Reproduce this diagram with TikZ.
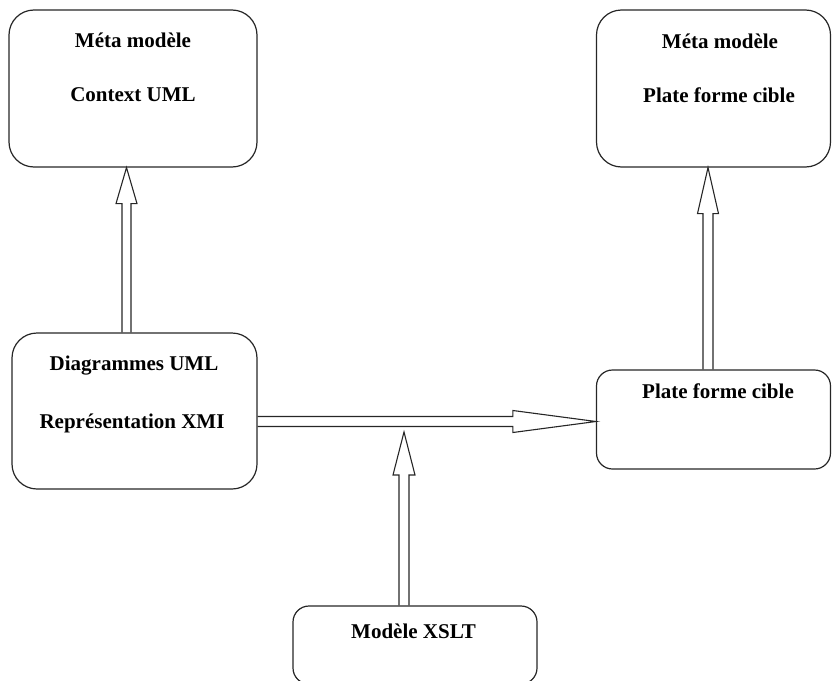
\documentclass[tikz,border=0pt]{standalone}
\usepackage{fontspec}
\setmainfont{Liberation Serif}
\usetikzlibrary{calc}
\begin{document}
\begin{tikzpicture}[x=1pt,y=-1pt,
  box/.style={draw=black!85, line width=1.2pt, rounded corners=25pt, inner sep=0pt},
  smallbox/.style={box, rounded corners=16pt},
  lbl/.style={anchor=base, inner sep=0pt, font=\fontsize{21}{25}\selectfont\bfseries},
  arr/.style={draw=black!85, line width=1.1pt, line join=miter}]
\useasboundingbox (0,0) rectangle (832,680);
\clip (0,0) rectangle (832,680);

% boxes
\node[box, minimum width=248pt, minimum height=157pt] (m1) at (133,88.5) {};
\node[box, minimum width=234pt, minimum height=157pt] (m2) at (713.5,88.5) {};
\node[box, minimum width=245pt, minimum height=156pt] (uml) at (134.5,411) {};
\node[smallbox, minimum width=234pt, minimum height=99pt] (pf) at (713.5,419.5) {};
\node[smallbox, minimum width=244pt, minimum height=78pt] (xslt) at (415,645) {};

% labels
\node[lbl] (m1a) at (133,47) {Méta modèle};
\node[lbl] (m1b) at (133,101.5) {Context UML};
\node[lbl] (m2a) at (720,48) {Méta modèle};
\node[lbl] (m2b) at (719,102) {Plate forme cible};
\node[lbl] (umla) at (134,370) {Diagrammes UML};
\node[lbl] (umlb) at (132,428) {Représentation XMI};
\node[lbl] (pfa) at (718,398) {Plate forme cible};
\node[lbl] (xslta) at (413.5,638) {Modèle XSLT};

% reference lines for the arrows
\coordinate (a1) at (126.5,0);
\coordinate (a2) at (708,0);
\coordinate (a3) at (0,421.5);
\coordinate (a4) at (404,0);

% Diagrammes UML -> Meta modele Context UML
\path (a1 |- uml.north) coordinate (s1) (a1 |- m1.south) coordinate (t1);
\draw[arr] ($(s1)+(-4.5,0)$) -- ($(t1)+(-4.5,36)$) -- ++(-6,0) -- (t1)
  -- ($(t1)+(10.5,36)$) -- ++(-6,0) -- ($(s1)+(4.5,0)$);

% Plate forme cible -> Meta modele Plate forme cible
\path (a2 |- pf.north) coordinate (s2) (a2 |- m2.south) coordinate (t2);
\draw[arr] ($(s2)+(-5,0)$) -- ($(t2)+(-5,46)$) -- ++(-5.5,0) -- (t2)
  -- ($(t2)+(10.5,46)$) -- ++(-5.5,0) -- ($(s2)+(5,0)$);

% Diagrammes UML -> Plate forme cible
\path (uml.east |- a3) coordinate (s3) (pf.west |- a3) coordinate (t3);
\draw[arr] ($(s3)+(0,-5)$) -- ($(t3)+(-83,-5)$) -- ++(0,-6) -- (t3)
  -- ($(t3)+(-83,11)$) -- ++(0,-6) -- ($(s3)+(0,5)$);

% Modele XSLT -> transformation
\path (a4 |- xslt.north) coordinate (s4) ($(a4 |- a3)+(0,10.5)$) coordinate (t4);
\draw[arr] ($(s4)+(-5,0)$) -- ($(t4)+(-5,43)$) -- ++(-6,0) -- (t4)
  -- ($(t4)+(11,43)$) -- ++(-6,0) -- ($(s4)+(5,0)$);
\end{tikzpicture}
\end{document}
